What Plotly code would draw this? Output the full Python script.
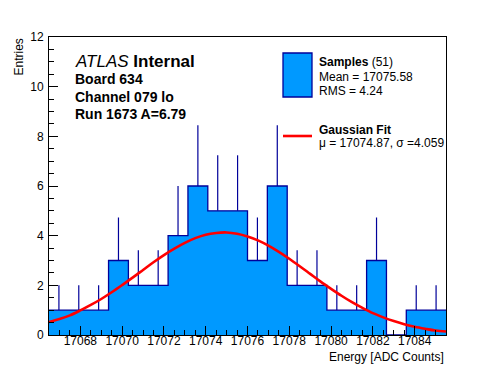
import numpy as np
import plotly.graph_objects as go

# ---- data ----
bin_low = 17066.5
bin_high = 17085.5
counts = [1, 1, 1, 3, 2, 2, 4, 6, 5, 5, 3, 6, 2, 2, 1, 1, 3, 0, 1, 1]

fit_x = [17066.5, 17067, 17067.5, 17068, 17068.5, 17069, 17069.5, 17070, 17070.5,
         17071, 17071.5, 17072, 17072.5, 17073, 17073.5, 17074, 17074.5, 17075,
         17075.5, 17076, 17076.5, 17077, 17077.5, 17078, 17078.5, 17079, 17079.5,
         17080, 17080.5, 17081, 17081.5, 17082, 17082.5, 17083, 17083.5, 17084,
         17084.5, 17085, 17085.5]
fit_y = [0.52, 0.64, 0.79, 0.99, 1.21, 1.45, 1.72, 2.01, 2.31,
         2.62, 2.93, 3.22, 3.48, 3.71, 3.90, 4.04, 4.11, 4.13,
         4.08, 3.97, 3.81, 3.60, 3.35, 3.07, 2.77, 2.46, 2.15,
         1.86, 1.58, 1.32, 1.09, 0.88, 0.71, 0.56, 0.43, 0.33,
         0.25, 0.18, 0.14]

y_ticks = [0, 2, 4, 6, 8, 10, 12]
x_ticks = [17068, 17070, 17072, 17074, 17076, 17078, 17080, 17082, 17084]

info_lines = ["Board 634", "Channel 079 lo", "Run 1673 A=6.79"]

FILL = "#0099ff"
EDGE = "#00009a"
FONT = "Liberation Sans, Arial, Helvetica, sans-serif"

# ---- layout geometry (pixels) ----
W, H = 496, 372
ML, MR, MT, MB = 49, 50, 37, 37
PW, PH = W - ML - MR, H - MT - MB


def px(x):
    return (x - ML) / PW


def py(y):
    return 1 - (y - MT) / PH


n = len(counts)
edges = np.linspace(bin_low, bin_high, n + 1)
centers = (edges[:-1] + edges[1:]) / 2
cnt = np.array(counts, dtype=float)

fig = go.Figure()

# error bars (upper part, visible above the fill)
fig.add_trace(go.Scatter(
    x=centers, y=cnt, mode="markers",
    marker=dict(size=1, color="rgba(0,0,0,0)"),
    error_y=dict(type="data", symmetric=False, array=np.sqrt(cnt),
                 arrayminus=np.zeros(n), width=0, thickness=1.2, color=EDGE),
    hoverinfo="skip", showlegend=False))

# filled step histogram
fig.add_trace(go.Scatter(
    x=list(edges), y=list(cnt) + [cnt[-1]], mode="lines",
    line=dict(shape="hv", color=EDGE, width=1.3),
    fill="tozeroy", fillcolor=FILL, showlegend=False, hoverinfo="skip"))

# gaussian fit
fig.add_trace(go.Scatter(
    x=fit_x, y=fit_y, mode="lines", line=dict(color="#ff0000", width=2.6, shape="spline"),
    showlegend=False, hoverinfo="skip"))

axis_common = dict(
    showline=True, linecolor="black", linewidth=1, mirror=True,
    ticks="inside", tickcolor="black", ticklen=9, tickwidth=1,
    showgrid=False, zeroline=False, tickangle=0, tickformat="d",
    tickfont=dict(family=FONT, size=12, color="black"),
)

fig.update_xaxes(range=[bin_low, bin_high], tickvals=x_ticks,
                 minor=dict(ticks="inside", ticklen=5, dtick=0.5, tick0=bin_low,
                            tickcolor="black", showgrid=False),
                 ticklabelstandoff=-5,
                 **axis_common)
fig.update_yaxes(range=[0, 12], tickvals=y_ticks,
                 minor=dict(ticks="inside", ticklen=5, dtick=0.5, tick0=0,
                            tickcolor="black", showgrid=False),
                 ticklabelstandoff=2,
                 **axis_common)

ann = []
ann.append(dict(text="<i>ATLAS</i> <b>Internal</b>", x=px(73), y=py(61), xref="paper", yref="paper",
                xanchor="left", yanchor="middle", showarrow=False,
                font=dict(family=FONT, size=17, color="black")))
for i, t in enumerate(info_lines):
    ann.append(dict(text="<b>%s</b>" % t, x=px(73), y=py(79 + 17.5 * i), xref="paper", yref="paper",
                    xanchor="left", yanchor="middle", showarrow=False,
                    font=dict(family=FONT, size=14, color="black")))

leg = [("<b>Samples</b> (51)", 62), ("Mean = 17075.58", 77), ("RMS = 4.24", 91),
       ("<b>Gaussian Fit</b>", 130), ("\u03bc = 17074.87, \u03c3 =4.059", 142.5)]
for t, yy in leg:
    ann.append(dict(text=t, x=px(317), y=py(yy), xref="paper", yref="paper",
                    xanchor="left", yanchor="middle", showarrow=False,
                    font=dict(family=FONT, size=12, color="black")))

ann.append(dict(text="Entries", x=0, xshift=-31, y=1, xref="paper", yref="paper",
                textangle=-90, xanchor="center", yanchor="top", showarrow=False,
                font=dict(family=FONT, size=12, color="black")))
ann.append(dict(text="Energy [ADC Counts]", x=1, y=py(357), xref="paper", yref="paper",
                xanchor="right", yanchor="middle", showarrow=False,
                font=dict(family=FONT, size=12, color="black")))

shapes = [
    dict(type="rect", xref="paper", yref="paper", x0=px(283), x1=px(312), y0=py(97), y1=py(53),
         fillcolor=FILL, line=dict(color=EDGE, width=1.3)),
    dict(type="line", xref="paper", yref="paper", x0=px(283), x1=px(312), y0=py(136), y1=py(136),
         line=dict(color="#ff0000", width=2.6)),
]

fig.update_layout(
    width=W, height=H, margin=dict(l=ML, r=MR, t=MT, b=MB, autoexpand=False),
    paper_bgcolor="white", plot_bgcolor="white",
    annotations=ann, shapes=shapes, showlegend=False,
)

fig.write_html("out.html", config={"displayModeBar": False, "staticPlot": True},
               post_script="document.body.style.margin='0';document.body.style.padding='0';")
